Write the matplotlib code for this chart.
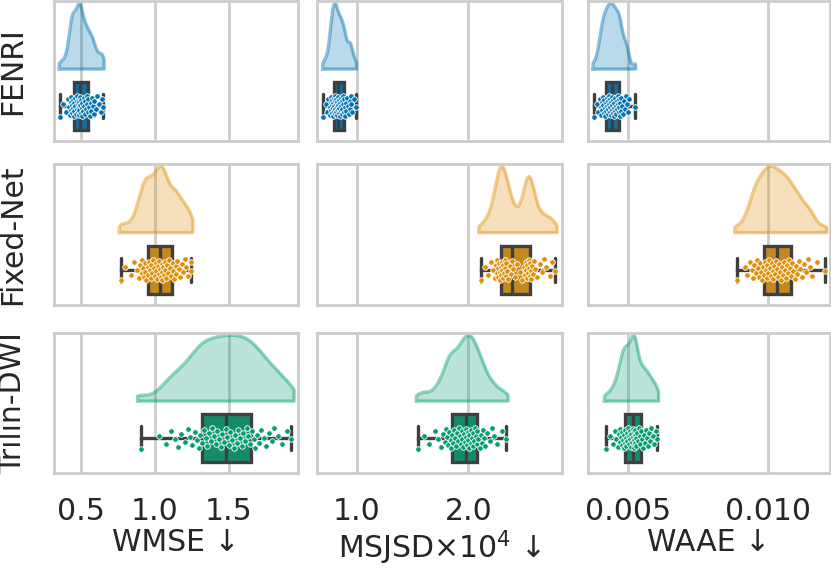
import numpy as np
import matplotlib
matplotlib.use("Agg")
import matplotlib.pyplot as plt
import colorsys
from matplotlib.colors import to_rgb

# ---------------- data ----------------
models = ["FENRI", "Fixed-Net", "Trilin-DWI"]
metric_labels = ["WMSE ↓", "MSJSD×10$^4$ ↓", "WAAE ↓"]
palette = ["#0173B2", "#DE8F05", "#029E73"]

wmse_fenri = [0.36, 0.38, 0.40, 0.41, 0.42, 0.425, 0.43, 0.43, 0.435, 0.44, 0.44, 0.445, 0.445, 0.45, 0.45,
              0.455, 0.46, 0.46, 0.465, 0.47, 0.47, 0.475, 0.48, 0.48, 0.485, 0.485, 0.49, 0.49, 0.49, 0.495,
              0.495, 0.50, 0.50, 0.505, 0.51, 0.51, 0.515, 0.52, 0.52, 0.525, 0.53, 0.535, 0.54, 0.54, 0.545,
              0.55, 0.555, 0.56, 0.565, 0.57, 0.575, 0.58, 0.585, 0.59, 0.60, 0.61, 0.62, 0.635, 0.645, 0.65]
wmse_fixednet = [0.77, 0.80, 0.84, 0.86, 0.88, 0.89, 0.90, 0.91, 0.915, 0.92, 0.925, 0.93, 0.935, 0.94, 0.95,
                 0.955, 0.96, 0.965, 0.97, 0.975, 0.98, 0.99, 0.995, 1.00, 1.005, 1.01, 1.015, 1.02, 1.025, 1.03,
                 1.035, 1.04, 1.045, 1.05, 1.05, 1.055, 1.06, 1.065, 1.07, 1.075, 1.08, 1.09, 1.095, 1.10, 1.11,
                 1.12, 1.125, 1.13, 1.14, 1.145, 1.15, 1.16, 1.17, 1.18, 1.19, 1.20, 1.21, 1.225, 1.24, 1.245]
wmse_trilin = [0.905, 1.029, 1.075, 1.110, 1.133, 1.155, 1.177, 1.200, 1.222, 1.239, 1.253, 1.267, 1.281, 1.295, 1.307,
               1.319, 1.330, 1.342, 1.353, 1.365, 1.377, 1.388, 1.400, 1.411, 1.422, 1.433, 1.444, 1.455, 1.466, 1.477,
               1.488, 1.499, 1.510, 1.521, 1.532, 1.543, 1.553, 1.564, 1.575, 1.585, 1.596, 1.607, 1.619, 1.631, 1.643,
               1.655, 1.666, 1.678, 1.690, 1.702, 1.716, 1.734, 1.752, 1.770, 1.788, 1.806, 1.828, 1.860, 1.892, 1.917]

msjsd_fenri = [0.70, 0.72, 0.735, 0.745, 0.755, 0.76, 0.765, 0.77, 0.772, 0.775, 0.778, 0.78, 0.783, 0.786, 0.789,
               0.792, 0.795, 0.798, 0.80, 0.802, 0.805, 0.807, 0.81, 0.812, 0.815, 0.818, 0.82, 0.823, 0.826, 0.83,
               0.833, 0.836, 0.84, 0.843, 0.846, 0.85, 0.853, 0.856, 0.86, 0.863, 0.866, 0.87, 0.874, 0.878, 0.882,
               0.886, 0.89, 0.895, 0.90, 0.905, 0.91, 0.92, 0.93, 0.935, 0.94, 0.945, 0.95, 0.96, 0.975, 0.99]
msjsd_fixednet = [2.11, 2.15, 2.18, 2.20, 2.22, 2.235, 2.245, 2.255, 2.26, 2.265, 2.27, 2.275, 2.28, 2.285, 2.29,
                  2.295, 2.30, 2.305, 2.31, 2.315, 2.32, 2.325, 2.33, 2.335, 2.34, 2.35, 2.36, 2.37, 2.38, 2.39,
                  2.40, 2.42, 2.44, 2.46, 2.48, 2.495, 2.505, 2.515, 2.52, 2.525, 2.53, 2.535, 2.54, 2.545, 2.55,
                  2.555, 2.56, 2.565, 2.57, 2.58, 2.59, 2.60, 2.62, 2.64, 2.66, 2.68, 2.70, 2.73, 2.75, 2.78]
msjsd_trilin = [1.55, 1.60, 1.65, 1.70, 1.73, 1.75, 1.77, 1.79, 1.80, 1.81, 1.82, 1.83, 1.84, 1.845, 1.85,
                1.86, 1.87, 1.88, 1.89, 1.90, 1.91, 1.92, 1.925, 1.93, 1.94, 1.945, 1.95, 1.96, 1.97, 1.975,
                1.98, 1.99, 1.995, 2.00, 2.005, 2.01, 2.02, 2.025, 2.03, 2.04, 2.045, 2.05, 2.06, 2.065, 2.075,
                2.08, 2.09, 2.10, 2.11, 2.12, 2.13, 2.14, 2.15, 2.17, 2.19, 2.21, 2.23, 2.26, 2.30, 2.34]

waae_fenri = [0.00378, 0.003905, 0.003944, 0.003982, 0.004021, 0.004049, 0.004066, 0.004084, 0.004101, 0.004119,
              0.004136, 0.004154, 0.004171, 0.004189, 0.004206, 0.004223, 0.004238, 0.004253, 0.004267, 0.004282,
              0.004297, 0.004312, 0.004327, 0.004341, 0.004356, 0.004370, 0.004385, 0.004399, 0.004413, 0.004428,
              0.004442, 0.004456, 0.004471, 0.004485, 0.004500, 0.004514, 0.004530, 0.004546, 0.004563, 0.004579,
              0.004596, 0.004612, 0.004628, 0.004645, 0.004661, 0.004677, 0.004694, 0.004710, 0.004727, 0.004743,
              0.004759, 0.004790, 0.004822, 0.004854, 0.004886, 0.004918, 0.004950, 0.004982, 0.005045, 0.00524]
waae_fixednet = [0.00888, 0.009163, 0.009259, 0.009354, 0.009438, 0.009476, 0.009514, 0.009553, 0.009591, 0.009629,
                 0.009667, 0.009706, 0.009744, 0.009782, 0.009821, 0.009855, 0.009885, 0.009915, 0.009946, 0.009976,
                 0.010006, 0.010036, 0.010066, 0.010097, 0.010128, 0.010159, 0.010191, 0.010222, 0.010253, 0.010285,
                 0.010316, 0.010347, 0.010379, 0.010414, 0.010449, 0.010484, 0.010519, 0.010555, 0.010590, 0.010625,
                 0.010660, 0.010695, 0.010731, 0.010766, 0.010802, 0.010849, 0.010897, 0.010945, 0.010993, 0.011040,
                 0.011088, 0.011136, 0.011198, 0.011274, 0.011349, 0.011425, 0.011500, 0.011576, 0.011730, 0.01203]
waae_trilin = [0.0042, 0.00435, 0.00445, 0.00452, 0.00458, 0.00463, 0.00467, 0.0047, 0.00473, 0.00476, 0.00478, 0.0048, 0.00482, 0.00484, 0.00486,
               0.00488, 0.0049, 0.00492, 0.00494, 0.00496, 0.00498, 0.0050, 0.00502, 0.00504, 0.00506, 0.00508, 0.0051, 0.00512, 0.00514, 0.00516,
               0.00518, 0.0052, 0.00521, 0.00522, 0.00523, 0.00524, 0.00525, 0.00526, 0.00528, 0.0053, 0.00532, 0.00535, 0.00538, 0.00541, 0.00544,
               0.00547, 0.0055, 0.00553, 0.00556, 0.0056, 0.00563, 0.00567, 0.0057, 0.00574, 0.00578, 0.00583, 0.00588, 0.00594, 0.0060, 0.00605]

wmse_ticks = [0.5, 1.0, 1.5]
wmse_ticklabels = ["0.5", "1.0", "1.5"]
msjsd_ticks = [1.0, 2.0]
msjsd_ticklabels = ["1.0", "2.0"]
waae_ticks = [0.005, 0.010]
waae_ticklabels = ["0.005", "0.010"]

data = [
    [wmse_fenri, msjsd_fenri, waae_fenri],
    [wmse_fixednet, msjsd_fixednet, waae_fixednet],
    [wmse_trilin, msjsd_trilin, waae_trilin],
]
col_ticks = [(wmse_ticks, wmse_ticklabels), (msjsd_ticks, msjsd_ticklabels), (waae_ticks, waae_ticklabels)]
col_xlim = [(0.318, 1.966), (0.642, 2.84), (0.00357, 0.01221)]

# ---------------- style ----------------
TEXT = "#262626"
GRID = "#cccccc"
DARK = "#3f3f3f"
FS = 21.5
plt.rcParams["font.family"] = ["DejaVu Sans"]
plt.rcParams["mathtext.fontset"] = "dejavusans"


def desaturate(c, prop=0.75):
    r, g, b = to_rgb(c)
    h, l, s = colorsys.rgb_to_hls(r, g, b)
    return colorsys.hls_to_rgb(h, l, s * prop)


def kde(vals, bw_adjust=0.55, cut=0.4, npts=300):
    v = np.asarray(vals, float)
    n = len(v)
    bw = v.std(ddof=1) * n ** (-0.2) * bw_adjust
    xs = np.linspace(v.min() - cut * bw, v.max() + cut * bw, npts)
    d = np.exp(-0.5 * ((xs[:, None] - v[None, :]) / bw) ** 2).sum(axis=1)
    return xs, d / d.max()


fig = plt.figure(figsize=(8.31, 5.70), dpi=100)
W, H = 831.0, 570.0
col_px = [(54, 298), (317, 562), (588, 830)]
row_px = [(1, 141), (164, 305), (333, 473)]

BASE = 0.514
VH = 0.47
BOXC = 0.25
BOXW = 0.34
JIT = 0.075

for r in range(3):
    for c in range(3):
        x0, x1 = col_px[c]
        y0, y1 = row_px[r]
        ax = fig.add_axes([x0 / W, 1 - y1 / H, (x1 - x0) / W, (y1 - y0) / H])
        vals = np.asarray(data[r][c], float)
        col = palette[r]

        xs, d = kde(vals)
        ax.fill_between(xs, BASE, BASE + VH * d, color=col, alpha=0.27, lw=0, zorder=2)
        ax.plot(np.r_[xs[0], xs, xs[-1], xs[0]], np.r_[BASE, BASE + VH * d, BASE, BASE],
                color=col, alpha=0.45, lw=2.4, zorder=2.1, solid_joinstyle="round")

        ax.boxplot([vals], positions=[BOXC], widths=BOXW, orientation="horizontal",
                   whis=(0, 100), patch_artist=True, showfliers=False, manage_ticks=False,
                   capwidths=0.17,
                   boxprops=dict(facecolor=desaturate(col), edgecolor=DARK, linewidth=2.4),
                   medianprops=dict(color=DARK, linewidth=2.4),
                   whiskerprops=dict(color=DARK, linewidth=2.4),
                   capprops=dict(color=DARK, linewidth=2.4, solid_capstyle="round"),
                   zorder=3)

        idx = np.arange(len(vals))
        jit = ((idx * 0.6180339887) % 1.0 - 0.5) * 2 * JIT
        ax.scatter(vals, BOXC + jit, s=16, color=col, edgecolors="white", linewidths=0.6, zorder=4)

        ax.set_xlim(*col_xlim[c])
        ax.set_ylim(0, 1)
        ticks, labels = col_ticks[c]
        ax.set_xticks(ticks)
        if r == 2:
            ax.set_xticklabels(labels)
            ax.set_xlabel(metric_labels[c], fontsize=FS, color=TEXT, labelpad=2)
        else:
            ax.set_xticklabels([])
        ax.set_yticks([])
        ax.tick_params(axis="x", length=0, pad=17, labelsize=FS, labelcolor=TEXT)
        ax.grid(axis="x", color=GRID, lw=2)
        ax.set_axisbelow(True)
        for s in ax.spines.values():
            s.set_color(GRID)
            s.set_linewidth(2)
        if c == 0:
            ax.set_ylabel(models[r], fontsize=FS, color=TEXT, labelpad=19)

fig.savefig("out.png", dpi=100)
